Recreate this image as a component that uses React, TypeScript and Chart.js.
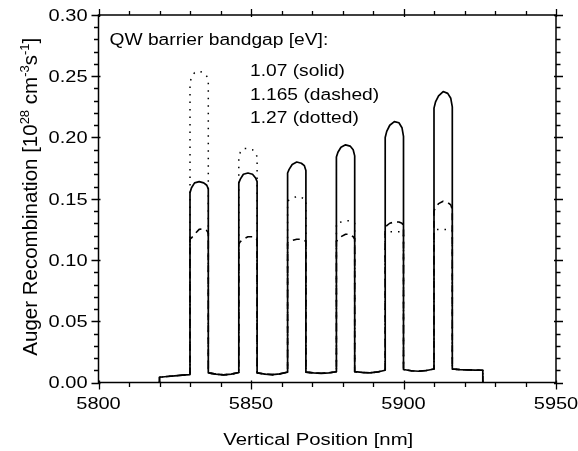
import React, { useEffect, useRef } from 'react';
import { Chart, registerables } from 'chart.js';

Chart.register(...registerables);

// ---- data ----
const wellLeft = [5830, 5846, 5862, 5878, 5894, 5910]; // nm
const wellOffsets = [0, 0.5, 1.5, 3, 4.5, 5.5, 6]; // nm inside each 6 nm well
const barrierLeft = [5820, 5836, 5852, 5868, 5884, 5900, 5916]; // nm
const barrierOffsets = [0, 2.5, 5, 7.5, 10]; // nm inside each 10 nm barrier

const barrierValues = [
  [0.0043, 0.0049, 0.0054, 0.006, 0.0065],
  [0.0079, 0.0068, 0.0062, 0.0068, 0.0082],
  [0.0079, 0.0069, 0.0064, 0.0071, 0.0085],
  [0.0085, 0.0078, 0.0075, 0.0079, 0.0088],
  [0.0088, 0.0082, 0.0079, 0.0086, 0.01],
  [0.0106, 0.0096, 0.0092, 0.0098, 0.011],
  [0.011, 0.0105, 0.0103, 0.0101, 0.01],
];

const solidWells = [
  [0.155, 0.159, 0.163, 0.164, 0.163, 0.161, 0.158],
  [0.163, 0.166, 0.17, 0.171, 0.17, 0.167, 0.164],
  [0.171, 0.174, 0.178, 0.18, 0.179, 0.177, 0.173],
  [0.184, 0.188, 0.192, 0.194, 0.193, 0.19, 0.185],
  [0.2, 0.205, 0.21, 0.213, 0.212, 0.208, 0.201],
  [0.224, 0.229, 0.234, 0.2375, 0.236, 0.232, 0.225],
];

const dashedWells = [
  [0.117, 0.118, 0.121, 0.125, 0.1255, 0.124, 0.122],
  [0.113, 0.115, 0.117, 0.119, 0.119, 0.118, 0.116],
  [0.114, 0.115, 0.116, 0.117, 0.117, 0.116, 0.115],
  [0.115, 0.117, 0.119, 0.121, 0.121, 0.119, 0.117],
  [0.126, 0.128, 0.13, 0.131, 0.131, 0.13, 0.128],
  [0.14, 0.143, 0.146, 0.148, 0.147, 0.145, 0.141],
];

const dottedWells = [
  [0.245, 0.249, 0.253, 0.254, 0.253, 0.25, 0.246],
  [0.184, 0.188, 0.191, 0.191, 0.19, 0.188, 0.184],
  [0.148, 0.149, 0.15, 0.152, 0.151, 0.15, 0.149],
  [0.13, 0.13, 0.131, 0.132, 0.132, 0.131, 0.13],
  [0.122, 0.122, 0.123, 0.123, 0.123, 0.123, 0.122],
  [0.124, 0.125, 0.125, 0.125, 0.125, 0.125, 0.124],
];

const xMin = 5800;
const xMax = 5950;
const yMin = 0;
const yMax = 0.3;
const xTickValues = [5800, 5850, 5900, 5950];
const xTickLabels = ['5800', '5850', '5900', '5950'];
const yTickValues = [0, 0.05, 0.1, 0.15, 0.2, 0.25, 0.3];
const yTickLabels = ['0.00', '0.05', '0.10', '0.15', '0.20', '0.25', '0.30'];
const xMinorStep = 10;
const yMinorStep = 0.01;

const xTitle = 'Vertical Position [nm]';
const yTitleParts = [
  { t: 'Auger Recombination [10', sup: false },
  { t: '28', sup: true },
  { t: ' cm', sup: false },
  { t: '-3', sup: true },
  { t: 's', sup: false },
  { t: '-1', sup: true },
  { t: ']', sup: false },
];
const legendTitle = 'QW barrier bandgap [eV]:';
const legendLines = ['1.07 (solid)', '1.165 (dashed)', '1.27 (dotted)'];

function buildSeries(wells: number[][]) {
  const pts: { x: number; y: number }[] = [{ x: barrierLeft[0], y: 0 }];
  barrierLeft.forEach((bx, i) => {
    barrierOffsets.forEach((o, j) => pts.push({ x: bx + o, y: barrierValues[i][j] }));
    if (i < wells.length) {
      wellOffsets.forEach((o, j) => pts.push({ x: wellLeft[i] + o, y: wells[i][j] }));
    }
  });
  const last = barrierLeft[barrierLeft.length - 1] + barrierOffsets[barrierOffsets.length - 1];
  pts.push({ x: last, y: 0 });
  return pts;
}

const FONT = '"Liberation Sans", Arial, Helvetica, sans-serif';

function drawText(ctx: CanvasRenderingContext2D, text: string, x: number, y: number, size: number, align: CanvasTextAlign, sx: number) {
  ctx.save();
  ctx.font = `${size}px ${FONT}`;
  ctx.translate(x, y);
  ctx.scale(sx, 1);
  ctx.textAlign = align;
  ctx.textBaseline = 'alphabetic';
  ctx.fillStyle = '#000';
  ctx.fillText(text, 0, 0);
  ctx.restore();
}

const decorPlugin = {
  id: 'decor',
  afterDatasetsDraw(chart: any) {
    const ctx: CanvasRenderingContext2D = chart.ctx;
    const { left, right, top, bottom } = chart.chartArea;
    const xs = chart.scales.x;
    const ys = chart.scales.y;
    ctx.save();
    ctx.strokeStyle = '#000';
    ctx.lineWidth = 1.5;
    ctx.strokeRect(left, top, right - left, bottom - top);

    ctx.lineWidth = 1.3;
    ctx.beginPath();
    for (let v = xMin; v <= xMax + 1e-6; v += xMinorStep) {
      const px = Math.round(xs.getPixelForValue(v)) + 0.5;
      const major = xTickValues.some((t) => Math.abs(t - v) < 1e-6);
      ctx.moveTo(px, bottom - (major ? 2 : 0));
      ctx.lineTo(px, bottom + (major ? 7 : 4.5));
      ctx.moveTo(px, top + (major ? 2 : 0));
      ctx.lineTo(px, top - (major ? 6 : 4));
    }
    const nY = Math.round((yMax - yMin) / yMinorStep);
    for (let k = 0; k <= nY; k++) {
      const v = yMin + k * yMinorStep;
      const py = Math.round(ys.getPixelForValue(v)) + 0.5;
      const major = yTickValues.some((t) => Math.abs(t - v) < 1e-6);
      ctx.moveTo(left + (major ? 2 : 0), py);
      ctx.lineTo(left - (major ? 7 : 4.5), py);
      ctx.moveTo(right - (major ? 2 : 0), py);
      ctx.lineTo(right + (major ? 7 : 4.5), py);
    }
    ctx.stroke();
    ctx.restore();

    // tick labels
    xTickValues.forEach((v, i) => {
      drawText(ctx, xTickLabels[i], xs.getPixelForValue(v), bottom + 26, 16, 'center', 1.25);
    });
    yTickValues.forEach((v, i) => {
      drawText(ctx, yTickLabels[i], left - 11, ys.getPixelForValue(v) + 5.8, 16, 'right', 1.25);
    });

    // x title
    drawText(ctx, xTitle, (left + right) / 2 - 9, 445, 16.3, 'center', 1.25);

    // y title with superscripts
    ctx.save();
    const base = 20.5;
    const sup = 13;
    let total = 0;
    yTitleParts.forEach((p) => {
      ctx.font = `${p.sup ? sup : base}px ${FONT}`;
      total += ctx.measureText(p.t).width;
    });
    ctx.translate(36.5, (top + bottom) / 2 - 2);
    ctx.rotate(-Math.PI / 2);
    ctx.fillStyle = '#000';
    ctx.textAlign = 'left';
    ctx.textBaseline = 'alphabetic';
    let cx = -total / 2;
    yTitleParts.forEach((p) => {
      ctx.font = `${p.sup ? sup : base}px ${FONT}`;
      ctx.fillText(p.t, cx, p.sup ? -8 : 0);
      cx += ctx.measureText(p.t).width;
    });
    ctx.restore();

    // legend text inside plot
    drawText(ctx, legendTitle, left + 11, top + 29.5, 16, 'left', 1.2);
    legendLines.forEach((t, i) => {
      drawText(ctx, t, xs.getPixelForValue(5850) - 1, top + 61 + i * 23.7, 16, 'left', 1.2);
    });
  },
};

export default function App() {
  const ref = useRef<HTMLCanvasElement | null>(null);
  useEffect(() => {
    document.body.style.margin = '0';
    if (!ref.current) return;
    const common = { fill: false, pointRadius: 0, tension: 0, borderColor: '#000', borderJoinStyle: 'round' as const };
    const chart = new Chart(ref.current, {
      type: 'line',
      data: {
        datasets: [
          { ...common, label: '1.07 (solid)', data: buildSeries(solidWells), borderWidth: 1.7 },
          { ...common, label: '1.165 (dashed)', data: buildSeries(dashedWells), borderWidth: 1.6, borderDash: [7, 5] },
          { ...common, label: '1.27 (dotted)', data: buildSeries(dottedWells), borderWidth: 1.5, borderDash: [1.5, 6], borderCapStyle: 'butt' },
        ],
      },
      options: {
        responsive: false,
        animation: false,
        devicePixelRatio: 1,
        layout: { padding: { left: 98.5, right: 22, top: 15, bottom: 68.5 } },
        plugins: { legend: { display: false }, tooltip: { enabled: false } },
        scales: {
          x: { type: 'linear', min: xMin, max: xMax, display: false },
          y: { type: 'linear', min: yMin, max: yMax, display: false },
        },
      },
      plugins: [decorPlugin],
    });
    return () => chart.destroy();
  }, []);
  return (
    <div style={{ position: 'fixed', left: 0, top: 0, width: 578, height: 451, background: '#fff' }}>
      <canvas ref={ref} width={578} height={451} />
    </div>
  );
}
